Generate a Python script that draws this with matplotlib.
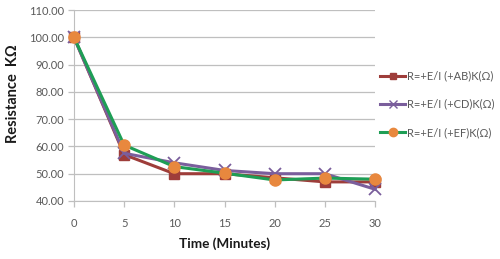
import matplotlib
matplotlib.use("Agg")
import matplotlib.pyplot as plt
from matplotlib.lines import Line2D

plt.rcParams['font.family'] = ['Lato', 'DejaVu Sans']

time = [0, 5, 10, 15, 20, 25, 30]
r_ab = [100.0, 57.0, 50.0, 50.0, 48.5, 47.0, 47.0]
r_cd = [100.0, 57.5, 54.0, 51.2, 50.0, 50.0, 44.3]
r_ef = [100.0, 60.5, 52.6, 50.2, 47.7, 48.4, 48.0]
labels = ["R=+E/I (+AB)K(\u03a9)", "R=+E/I (+CD)K(\u03a9)", "R=+E/I (+EF)K(\u03a9)"]
yticks = [40, 50, 60, 70, 80, 90, 100, 110]
xticks = [0, 5, 10, 15, 20, 25, 30]

fig = plt.figure(figsize=(5.0, 2.59), dpi=100)
ax = fig.add_axes([0.148, 0.224, 0.602, 0.737])

red = "#9E3D3A"
purple = "#7A5E9C"
green = "#1E9E55"
orange = "#E8883E"

ax.plot(time, r_ab, color=red, lw=2.2, marker='s', ms=7, mfc=red, mec=red, zorder=3)
ax.plot(time, r_cd, color=purple, lw=2.2, marker='x', ms=8, mew=1.3, mec=purple, zorder=4)
ax.plot(time, r_ef, color=green, lw=2.2, marker='o', ms=8, mfc=orange, mec=orange, zorder=5)

ax.set_xlim(0, 30)
ax.set_ylim(40, 110)
ax.set_xticks(xticks)
ax.set_yticks(yticks)
ax.set_yticklabels([f"{v:.2f}" for v in yticks])
ax.grid(axis='y', color='#BFBFBF', lw=0.9)
ax.set_axisbelow(True)
for s in ['top', 'right']:
    ax.spines[s].set_visible(False)
for s in ['left', 'bottom']:
    ax.spines[s].set_color('#BFBFBF')
ax.tick_params(colors='#BFBFBF', labelcolor='#595959', labelsize=8, length=4, width=0.9, pad=3)
for lab in ax.get_xticklabels():
    lab.set_y(-0.04)

ax.set_xlabel("Time (Minutes)", fontsize=9.8, fontweight='bold', color='#1a1a1a', labelpad=6)
ax.set_ylabel("Resistance  K\u03a9", fontsize=10.5, fontweight='bold', color='#1a1a1a')
ax.yaxis.set_label_coords(-0.178, 0.56)
for l in ax.lines:
    l.set_clip_on(False)

handles = [
    Line2D([], [], color=red, lw=2.2, marker='s', ms=5, mfc=red, mec=red),
    Line2D([], [], color=purple, lw=2.2, marker='x', ms=6, mew=1, mec=purple),
    Line2D([], [], color=green, lw=2.2, marker='o', ms=6, mfc=orange, mec=orange),
]
fig.legend(handles, labels, loc='upper left', bbox_to_anchor=(0.752, 0.745), frameon=False,
           fontsize=8, handlelength=2.2, handletextpad=0.15, labelspacing=1.55,
           labelcolor='#595959', borderaxespad=0)

fig.savefig("out.png", dpi=100)
